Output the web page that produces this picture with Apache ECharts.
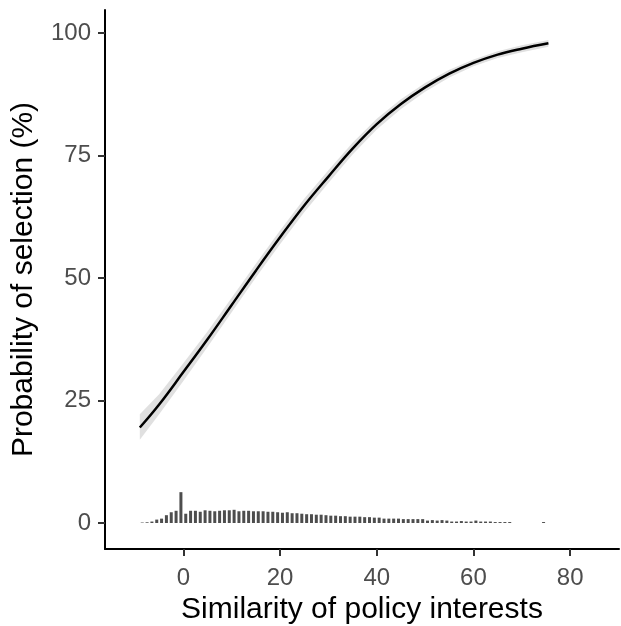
<!DOCTYPE html>
<html>
<head>
<meta charset="utf-8">
<script src="https://cdn.jsdelivr.net/npm/echarts@6/dist/echarts.min.js"></script>
<style>html,body{margin:0;padding:0;background:#fff}#c{width:621px;height:626px}</style>
</head>
<body>
<div id="c"></div>
<script>
// Fitted curve (x = similarity, y = probability %)
var curveX = [-9, -5, 0, 5, 10, 15, 20, 25, 30, 35, 40, 45, 50, 55, 60, 65, 70, 75.5];
var curveY = [19.5, 24.2, 30.8, 37.5, 44.5, 51.5, 58.3, 64.8, 70.7, 76.4, 81.4, 85.5, 88.9, 91.7, 93.9, 95.6, 96.8, 97.9];
var bandLow = [17.0, 22.2, 29.0, 35.9, 43.0, 50.1, 56.9, 63.4, 69.4, 75.2, 80.3, 84.5, 88.0, 90.9, 93.2, 94.9, 96.1, 97.2];
var bandHigh = [22.2, 26.3, 32.6, 39.1, 46.0, 52.9, 59.7, 66.2, 72.0, 77.6, 82.5, 86.5, 89.8, 92.5, 94.6, 96.3, 97.5, 98.6];

// Distribution histogram at the bottom
var histX = [-8.5, -7.5, -6.5, -5.5, -4.5, -3.5, -2.5, -1.5, -0.5, 0.5, 1.5, 2.5, 3.5, 4.5, 5.5, 6.5, 7.5, 8.5,
  9.5, 10.5, 11.5, 12.5, 13.5, 14.5, 15.5, 16.5, 17.5, 18.5, 19.5, 20.5, 21.5, 22.5, 23.5, 24.5, 25.5, 26.5,
  27.5, 28.5, 29.5, 30.5, 31.5, 32.5, 33.5, 34.5, 35.5, 36.5, 37.5, 38.5, 39.5, 40.5, 41.5, 42.5, 43.5, 44.5,
  45.5, 46.5, 47.5, 48.5, 49.5, 50.5, 51.5, 52.5, 53.5, 54.5, 55.5, 56.5, 57.5, 58.5, 59.5, 60.5, 61.5, 62.5,
  63.5, 64.5, 65.5, 66.5, 67.5, 74.5];
var histY = [0.1, 0.15, 0.3, 0.7, 0.9, 1.6, 2.2, 2.5, 6.3, 1.9, 2.5, 2.5, 2.3, 2.6, 2.5, 2.4, 2.5, 2.6,
  2.6, 2.7, 2.4, 2.5, 2.5, 2.4, 2.4, 2.4, 2.3, 2.3, 2.2, 2.1, 2.2, 2.0, 2.0, 1.9, 1.8, 1.8,
  1.7, 1.7, 1.6, 1.5, 1.5, 1.4, 1.4, 1.3, 1.3, 1.3, 1.2, 1.2, 1.1, 1.1, 0.9, 0.9, 0.9, 0.9,
  0.8, 0.8, 0.8, 0.8, 0.8, 0.5, 0.6, 0.5, 0.6, 0.5, 0.3, 0.3, 0.4, 0.3, 0.3, 0.5, 0.3, 0.3,
  0.3, 0.2, 0.2, 0.2, 0.2, 0.2];

var xTicks = [0, 20, 40, 60, 80];
var yTicks = [0, 25, 50, 75, 100];

var curveData = curveX.map(function (x, i) { return [x, curveY[i]]; });
var bandData = curveX.map(function (x, i) { return [x, bandLow[i], bandHigh[i]]; });
var histData = histX.map(function (x, i) { return [x, histY[i]]; });

var FONT = 'Liberation Sans, Arial, sans-serif';
var chart = echarts.init(document.getElementById('c'), null, { renderer: 'canvas' });
chart.setOption({
  animation: false,
  backgroundColor: '#ffffff',
  grid: { left: 105, right: 2, top: 10, bottom: 77, containLabel: false, outerBoundsMode: 'none' },
  xAxis: {
    type: 'value', min: -16.2, max: 90.1,
    name: 'Similarity of policy interests', nameLocation: 'middle', nameGap: 44,
    nameTextStyle: { color: '#000', fontSize: 30, fontFamily: FONT },
    axisLine: { show: true, onZero: false, lineStyle: { color: '#000', width: 2 } },
    axisTick: { show: true, length: 7, customValues: xTicks, lineStyle: { color: '#333', width: 2 } },
    axisLabel: { customValues: xTicks, color: '#4d4d4d', fontSize: 24, margin: 17, fontFamily: FONT },
    splitLine: { show: false }
  },
  yAxis: {
    type: 'value', min: -5.3, max: 104.7,
    name: 'Probability of selection (%)', nameLocation: 'middle', nameGap: 66, nameRotate: 90,
    nameTextStyle: { color: '#000', fontSize: 30, fontFamily: FONT },
    axisLine: { show: true, onZero: false, lineStyle: { color: '#000', width: 2 } },
    axisTick: { show: true, length: 7, customValues: yTicks, lineStyle: { color: '#333', width: 2 } },
    axisLabel: { customValues: yTicks, color: '#4d4d4d', fontSize: 24, margin: 14, fontFamily: FONT },
    splitLine: { show: false }
  },
  series: [
    {
      type: 'bar', data: histData, barWidth: 3,
      itemStyle: { color: '#4d4d4d' }, z: 2
    },
    {
      type: 'custom', data: bandData, z: 3,
      renderItem: function (params, api) {
        if (params.dataIndexInside !== 0) return null;
        var up = [], lo = [];
        for (var i = 0; i < bandData.length; i++) {
          up.push(api.coord([bandData[i][0], bandData[i][2]]));
          lo.unshift(api.coord([bandData[i][0], bandData[i][1]]));
        }
        return {
          type: 'polygon', shape: { points: up.concat(lo) },
          style: { fill: '#e0e0e0', stroke: null }
        };
      }
    },
    {
      type: 'line', data: curveData, smooth: 0.4, showSymbol: false, z: 4,
      lineStyle: { color: '#000', width: 2.5 }
    }
  ]
});
</script>
</body>
</html>
